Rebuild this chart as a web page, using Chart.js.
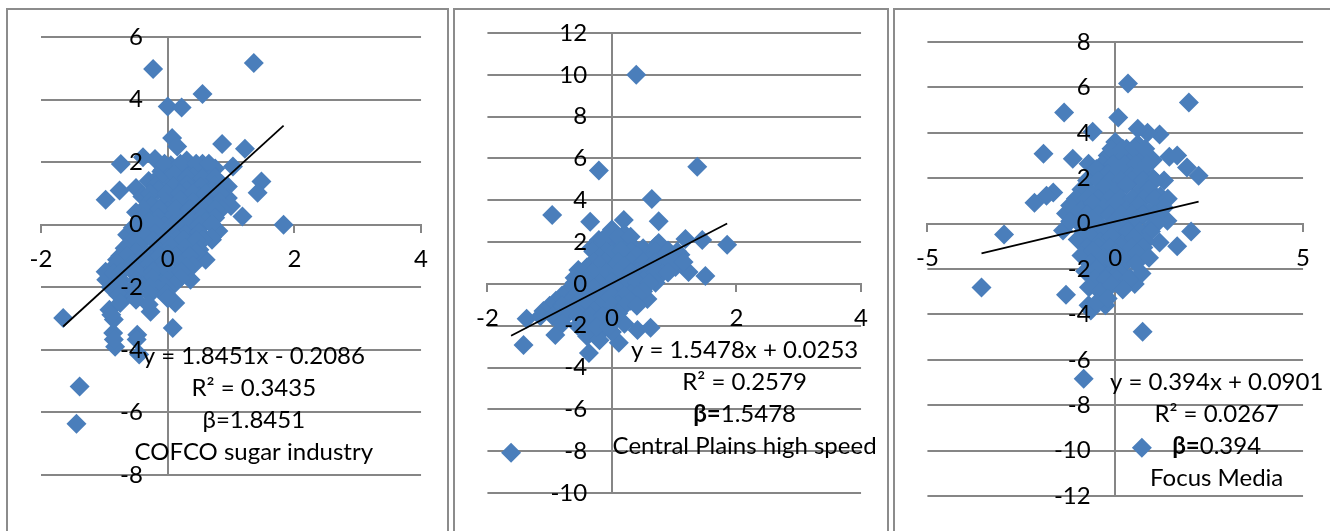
<!DOCTYPE html>
<html>
<head>
<meta charset="utf-8">
<script src="https://cdn.jsdelivr.net/npm/chart.js@4.4.1/dist/chart.umd.min.js"></script>
<style>
  body { margin: 0; width: 1330px; height: 531px; overflow: hidden; position: relative; background: #fff; }
  .box { position: absolute; top: 8px; height: 560px; border: 2px solid #8c8c8c; box-sizing: border-box; }
  canvas { position: absolute; top: 0; }
</style>
</head>
<body>
<div class="box" style="left:6px;width:443px"></div>
<div class="box" style="left:453px;width:436px"></div>
<div class="box" style="left:893px;width:500px"></div>
<canvas id="c1" width="440" height="531" style="left:8px"></canvas>
<canvas id="c2" width="432" height="531" style="left:456px"></canvas>
<canvas id="c3" width="434" height="531" style="left:896px"></canvas>
<script>
/* ===== data ===== */
// COFCO sugar industry
const cofcoX = [-0.23, 1.36, 0.55, 0.0, 0.22, 0.07, 0.15, 0.86, 1.22, -0.74, -0.39, 1.03, 1.48, 1.42, -0.98, -0.76, -0.5, 1.18, 1.83, -0.64,
  0.7, 0.6, -0.8, -0.98, 0.36, -1.65, -0.92, -0.27, 0.12, 0.08, -0.48, -0.86, -0.83, -0.45, -1.39, -1.44, -0.85, -0.97, -0.8, -0.89, -0.85, -0.49,
  -0.2, 0.05, 0.3, 0.55, 0.75, -0.1, 0.45,
  -0.08, 0.18, 0.43, 0.65,
  -0.05, 0.2, 0.45, 0.65,
  -0.3, 0.0, 0.2, 0.4, 0.65, 0.85, 0.1,
  -0.15, 0.3, 0.55, 0.75,
  -0.18, 0.08, 0.3, 0.52, 0.75, 0.95,
  -0.4, -0.15, 0.1, 0.3, 0.5, 0.7, 0.95,
  -0.28, -0.03, 0.2, 0.4, 0.6, 0.82,
  -0.28, -0.03, 0.2, 0.4, 0.6, 0.82, 1.0,
  -0.5, -0.25, 0.0, 0.25, 0.45, 0.65, 0.85,
  -0.38, -0.13, 0.12, 0.35, 0.55, 0.75,
  -0.4, -0.15, 0.1, 0.33, 0.55, 0.75,
  -0.55, -0.3, -0.05, 0.2, 0.4, 0.6, 0.8,
  -0.43, -0.18, 0.08, 0.3, 0.5, 0.7,
  -0.45, -0.2, 0.05, 0.28, 0.5, 0.7,
  -0.6, -0.35, -0.1, 0.15, 0.35, 0.55,
  -0.48, -0.23, 0.02, 0.25, 0.45,
  -0.68, -0.43, -0.18, 0.05, 0.28, 0.5,
  -0.75, -0.5, -0.25, 0.0, 0.25, 0.45,
  -0.63, -0.38, -0.13, 0.12, 0.35,
  -0.8, -0.55, -0.3, -0.05, 0.2, 0.4,
  -0.85, -0.6, -0.35, -0.1, 0.15, 0.3,
  -0.73, -0.48, -0.23, 0.02, 0.22,
  -0.75, -0.5, -0.25, 0.0, 0.2,
  -0.9, -0.65, -0.4, -0.15, 0.1,
  -0.78, -0.53, -0.28, -0.03,
  -0.78, -0.53, -0.28, -0.03,
  -0.75, -0.5, -0.3, 0.0];
const cofcoY = [4.98, 5.17, 4.18, 3.78, 3.75, 2.77, 2.5, 2.58, 2.43, 1.94, 2.16, 1.86, 1.38, 1.02, 0.8, 1.09, 1.17, 0.26, 0.0, -0.32,
  -0.48, -1.12, -1.12, -1.5, -1.76, -2.98, -2.72, -2.78, -2.5, -3.3, -3.52, -3.46, -3.9, -4.15, -5.17, -6.36, -3.03, -1.76, -1.28, -2.88, -3.67, -3.67,
  2.1, 1.9, 2.05, 1.95, 1.8, 1.7, 1.75,
  1.75, 1.8, 1.72, 1.75,
  1.95, 1.95, 1.95, 1.95,
  1.4, 1.5, 1.35, 1.55, 1.45, 1.3, 1.6,
  1.5, 1.5, 1.5, 1.5,
  1.25, 1.22, 1.28, 1.2, 1.25, 1.22,
  0.9, 1.1, 0.95, 1.1, 0.9, 1.05, 0.85,
  1.0, 1.0, 1.0, 1.0, 1.0, 1.0,
  0.75, 0.72, 0.78, 0.7, 0.75, 0.72, 0.6,
  0.4, 0.6, 0.45, 0.55, 0.35, 0.6, 0.5,
  0.5, 0.5, 0.5, 0.5, 0.5, 0.5,
  0.25, 0.22, 0.28, 0.2, 0.25, 0.22,
  -0.1, 0.1, -0.05, 0.05, -0.15, 0.1, -0.2,
  0.0, 0.0, 0.0, 0.0, 0.0, 0.0,
  -0.25, -0.28, -0.22, -0.3, -0.25, -0.4,
  -0.6, -0.4, -0.55, -0.45, -0.6, -0.5,
  -0.5, -0.5, -0.5, -0.5, -0.5,
  -0.75, -0.72, -0.78, -0.7, -0.75, -0.8,
  -1.0, -0.9, -1.1, -0.95, -1.05, -0.9,
  -1.0, -1.0, -1.0, -1.0, -1.0,
  -1.25, -1.22, -1.28, -1.2, -1.25, -1.3,
  -1.55, -1.4, -1.6, -1.45, -1.55, -1.35,
  -1.5, -1.5, -1.5, -1.5, -1.5,
  -1.75, -1.78, -1.72, -1.8, -1.7,
  -2.0, -2.1, -1.95, -2.05, -1.9,
  -2.0, -2.0, -2.0, -2.0,
  -2.25, -2.28, -2.22, -2.2,
  -2.5, -2.4, -2.55, -2.35];

// Central Plains high speed
const plainsX = [0.39, -0.21, 1.37, 0.64, -0.96, -0.35, 0.75, 0.19, 1.18, 1.45, 1.85, 1.5, 1.23, 1.02, -1.37, -1.42, -1.62, -0.91, -0.37, 0.11,
  0.41, 0.62, 0.57, -0.54, -0.21, -0.33, 0.75,
  0.0, 0.2, 0.1, -0.1, 0.3, 0.5, 0.7, 0.9, 1.1,
  -0.1, 0.1, 0.3,
  -0.3, -0.1, 0.1, 0.3, 0.5, 0.7, 0.9, 1.05,
  -0.2, 0.0, 0.2, 0.4, 0.6, 0.8, 1.0, 0.15,
  -0.3, -0.1, 0.1, 0.3, 0.5, 0.7, 0.9, 1.15,
  -0.4, -0.2, 0.0, 0.2, 0.4, 0.6, 0.8, 0.3,
  -0.5, -0.3, -0.1, 0.1, 0.3, 0.5, 0.7, 0.9,
  -0.6, -0.4, -0.2, 0.0, 0.2, 0.5, 0.7,
  -0.6, -0.4, -0.2, 0.0, 0.2, 0.4, 0.6,
  -0.7, -0.5, -0.3, -0.1, 0.1, 0.3, 0.5,
  -0.8, -0.6, -0.4, -0.2, 0.0, 0.2, 0.4,
  -0.9, -0.7, -0.5, -0.3, -0.1, 0.1, 0.3,
  -1.0, -0.8, -0.6, -0.4, -0.2, 0.0, 0.2, 0.4,
  -1.1, -0.9, -0.7, -0.5, -0.3, -0.1, 0.1, 0.2,
  -1.15, -0.95, -0.75, -0.55, -0.35, -0.15, 0.05,
  -0.8, -0.55, -0.35, -0.15, -0.4, -0.2, 0.0,
  -0.45, -0.25, -0.05];
const plainsY = [10.0, 5.42, 5.6, 4.06, 3.3, 2.97, 3.0, 3.06, 2.15, 2.1, 1.87, 0.38, 0.57, 0.81, -1.67, -2.92, -8.08, -2.44, -3.3, -2.82,
  -2.2, -2.1, -0.72, 0.67, 2.1, 1.72, 1.96,
  2.6, 2.4, 2.0, 1.8, 1.9, 1.7, 1.8, 1.6, 1.4,
  2.25, 2.25, 2.25,
  1.55, 1.55, 1.55, 1.55, 1.55, 1.55, 1.55, 1.55,
  1.3, 1.4, 1.2, 1.35, 1.1, 1.2, 1.0, 1.6,
  1.05, 1.05, 1.05, 1.05, 1.05, 1.05, 1.05, 1.05,
  0.8, 0.9, 0.7, 0.85, 0.6, 0.75, 0.5, 0.3,
  0.55, 0.55, 0.55, 0.55, 0.55, 0.55, 0.55, 0.55,
  0.3, 0.2, 0.35, 0.1, 0.0, 0.15, 0.05,
  0.05, 0.05, 0.05, 0.05, 0.05, 0.05, 0.05,
  -0.3, -0.4, -0.2, -0.45, -0.3, -0.5, -0.35,
  -0.55, -0.55, -0.55, -0.55, -0.55, -0.55, -0.55,
  -0.8, -0.9, -0.7, -1.0, -0.85, -1.0, -0.8,
  -1.05, -1.05, -1.05, -1.05, -1.05, -1.05, -1.05, -1.05,
  -1.3, -1.4, -1.2, -1.5, -1.3, -1.6, -1.4, -1.9,
  -1.55, -1.55, -1.55, -1.55, -1.55, -1.55, -1.55,
  -1.9, -2.0, -1.85, -2.2, -2.5, -2.7, -2.3,
  -2.05, -2.05, -2.05];

// Focus Media
const focusX = [0.34, 1.96, -1.36, -0.6, -1.91, -1.13, -0.71, 0.08, 1.18, 0.86, 0.6, 1.44, 1.65, 1.91, 2.22, -1.65, -1.83, -2.15, -2.96, -3.56,
  -1.31, 0.73, -0.84, 0.71, 1.39, 2.02, 1.65, 1.18, -0.31, -0.71, 0.52, -1.39, -1.31, -0.65, -0.26,
  0.0, 0.3, 0.6, -0.2, 0.1, 0.4, 0.7, 1.0,
  -0.1, 0.2, 0.5, 0.8,
  -0.35, -0.05, 0.25, 0.55, 0.85,
  -0.5, -0.2, 0.1, 0.4, 0.7, 1.0, 1.3, -0.7,
  -0.75, -0.45, -0.15, 0.15, 0.45, 0.75, 1.05,
  -0.9, -0.6, -0.3, 0.0, 0.3, 0.6, 0.9, 1.2,
  -1.05, -0.75, -0.45, -0.15, 0.15, 0.45, 0.75, 1.05, 1.4,
  -1.2, -0.9, -0.6, -0.3, 0.0, 0.3, 0.6, 0.9, 1.3,
  -1.05, -0.75, -0.45, -0.15, 0.15, 0.45, 0.75, 1.05,
  -1.2, -0.9, -0.6, -0.3, 0.0, 0.3, 0.6, 0.9, 1.1,
  -0.85, -0.55, -0.25, 0.05, 0.35, 0.65, 0.95,
  -1.0, -0.7, -0.4, -0.1, 0.2, 0.5, 0.8,
  -0.75, -0.45, -0.15, 0.15, 0.45, 0.75,
  -0.9, -0.6, -0.3, 0.0, 0.3, 0.6, 0.9,
  -0.65, -0.35, -0.05, 0.25, 0.55,
  -0.8, -0.5, -0.2, 0.1, 0.4, 0.7,
  -0.55, -0.25, 0.05, 0.35,
  -0.7, -0.4, -0.1, 0.2, -0.5, -0.2];
const focusY = [6.17, 5.33, 4.89, 4.05, 3.08, 2.86, 2.64, 4.67, 3.92, 4.0, 4.18, 2.95, 3.0, 2.47, 2.11, 1.37, 1.23, 0.92, -0.48, -2.82,
  -3.13, -4.76, -6.83, -9.87, 0.13, -0.35, -1.0, -0.83, -3.3, -3.6, -2.66, -0.3, 0.44, -3.83, -3.6,
  3.6, 3.3, 3.5, 3.0, 2.9, 2.7, 3.0, 2.8,
  3.3, 3.3, 3.3, 3.3,
  2.6, 2.6, 2.6, 2.6, 2.6,
  2.4, 2.2, 2.4, 2.1, 2.3, 2.0, 1.9, 2.0,
  1.9, 1.9, 1.9, 1.9, 1.9, 1.9, 1.9,
  1.5, 1.3, 1.6, 1.4, 1.7, 1.3, 1.5, 1.2,
  1.1, 1.1, 1.1, 1.1, 1.1, 1.1, 1.1, 1.1, 1.1,
  0.8, 0.6, 0.9, 0.7, 0.9, 0.6, 0.8, 0.5, 0.7,
  0.4, 0.4, 0.4, 0.4, 0.4, 0.4, 0.4, 0.4,
  0.1, -0.1, 0.2, -0.2, 0.1, -0.1, 0.2, -0.2, 0.0,
  -0.35, -0.35, -0.35, -0.35, -0.35, -0.35, -0.35,
  -0.7, -0.5, -0.8, -0.6, -0.9, -0.6, -0.8,
  -1.05, -1.05, -1.05, -1.05, -1.05, -1.05,
  -1.4, -1.2, -1.5, -1.3, -1.6, -1.3, -1.5,
  -1.75, -1.75, -1.75, -1.75, -1.75,
  -2.1, -2.0, -2.3, -2.1, -2.4, -2.2,
  -2.45, -2.45, -2.45, -2.45,
  -2.8, -3.0, -2.7, -2.9, -3.5, -3.3];

// axis ranges and ticks
const xMin = [-2, -2, -5], xMax = [4, 4, 5], xStep = [2, 2, 5];
const yMin = [-8, -10, -12], yMax = [6, 12, 8], yStep = [2, 2, 2];

// trendlines and their labels
const slopes = [1.8451, 1.5478, 0.394];
const intercepts = [-0.2086, 0.0253, 0.0901];
const eqLabels = ['y = 1.8451x - 0.2086', 'y = 1.5478x + 0.0253', 'y = 0.394x + 0.0901'];
const r2Labels = ['R² = 0.3435', 'R² = 0.2579', 'R² = 0.0267'];
const betaLabels = ['1.8451', '1.5478', '0.394'];
const betaBold = [false, true, true];
const names = ['COFCO sugar industry', 'Central Plains high speed', 'Focus Media'];
// where the label block sits (data coords of first line centre)
const labelAt = [[1.36, -4.22], [2.13, -3.16], [2.7, -7.0]];

const canvasW = [440, 432, 434];
const pad = [
  {left: 33, right: 24, top: 37, bottom: 56},
  {left: 30, right: 25, top: 33, bottom: 38},
  {left: 29, right: 23, top: 42, bottom: 35}
];

const FONT = 'Lato';
const FSIZE = 24;
const GRID = '#868686';
const BLUE = '#4a7ebb';
const YLABEL_GAP = 25;

const labelPlugin = {
  id: 'trendText',
  afterDraw(chart, args, opts) {
    const ctx = chart.ctx;
    const cx = chart.scales.x.getPixelForValue(opts.at[0]);
    let cy = chart.scales.y.getPixelForValue(opts.at[1]);
    ctx.save();
    ctx.fillStyle = '#000';
    ctx.textBaseline = 'middle';
    ctx.textAlign = 'left';
    opts.lines.forEach(line => {
      let w = 0;
      line.forEach(seg => {
        ctx.font = (seg.bold ? 'bold ' : '') + opts.size + 'px ' + FONT;
        seg.w = ctx.measureText(seg.t).width;
        w += seg.w;
      });
      let x0 = cx - w / 2;
      line.forEach(seg => {
        ctx.font = (seg.bold ? 'bold ' : '') + opts.size + 'px ' + FONT;
        ctx.fillText(seg.t, x0, cy);
        x0 += seg.w;
      });
      cy += opts.gap;
    });
    ctx.restore();
  }
};

function makeChart(id, i, xs, ys) {
  const pts = xs.map((v, k) => ({x: v, y: ys[k]}));
  const lo = Math.min(...xs), hi = Math.max(...xs);
  const line = [lo, hi].map(v => ({x: v, y: slopes[i] * v + intercepts[i]}));
  const tickFont = {family: FONT, size: FSIZE};
  // y labels sit a little left of the x=0 axis line
  const pxPerX = (canvasW[i] - pad[i].left - pad[i].right) / (xMax[i] - xMin[i]);
  const yLabelAt = -YLABEL_GAP / pxPerX;

  new Chart(document.getElementById(id), {
    type: 'scatter',
    data: {
      datasets: [
        {data: line, type: 'line', borderColor: '#000', borderWidth: 1.8, pointRadius: 0, fill: false, xAxisID: 'x', yAxisID: 'y', order: 0},
        {data: pts, pointStyle: 'rectRot', pointRadius: 10, backgroundColor: BLUE, borderWidth: 0, xAxisID: 'x', yAxisID: 'y', order: 1}
      ]
    },
    options: {
      responsive: false,
      animation: false,
      events: [],
      layout: {padding: pad[i]},
      plugins: {
        legend: {display: false},
        tooltip: {enabled: false},
        trendText: {
          at: labelAt[i], size: FSIZE, gap: 32,
          lines: [
            [{t: eqLabels[i]}],
            [{t: r2Labels[i]}],
            [{t: 'β=', bold: betaBold[i]}, {t: betaLabels[i]}],
            [{t: names[i]}]
          ]
        }
      },
      scales: {
        x: {
          type: 'linear', axis: 'x', min: xMin[i], max: xMax[i], position: {y: 0},
          ticks: {display: false, stepSize: xStep[i]},
          grid: {drawOnChartArea: false, drawTicks: true, tickLength: 7, color: GRID, lineWidth: 2},
          border: {color: GRID, width: 2}
        },
        y: {
          type: 'linear', axis: 'y', min: yMin[i], max: yMax[i], position: {x: 0},
          ticks: {display: false, stepSize: yStep[i]},
          grid: {drawTicks: false, color: GRID, lineWidth: 2},
          border: {color: GRID, width: 2}
        },
        // label-only scales, drawn above the markers
        xl: {
          type: 'linear', axis: 'x', min: xMin[i], max: xMax[i], position: {y: 0},
          ticks: {stepSize: xStep[i], padding: 20, color: '#000', font: tickFont, maxRotation: 0, z: 1},
          grid: {display: false, drawTicks: false, tickLength: 0},
          border: {display: false}
        },
        yl: {
          type: 'linear', axis: 'y', min: yMin[i], max: yMax[i], position: {x: yLabelAt},
          ticks: {stepSize: yStep[i], padding: 0, color: '#000', font: tickFont, z: 1},
          grid: {display: false, drawTicks: false, tickLength: 0},
          border: {display: false}
        }
      }
    },
    plugins: [labelPlugin]
  });
}

makeChart('c1', 0, cofcoX, cofcoY);
makeChart('c2', 1, plainsX, plainsY);
makeChart('c3', 2, focusX, focusY);
</script>
</body>
</html>
